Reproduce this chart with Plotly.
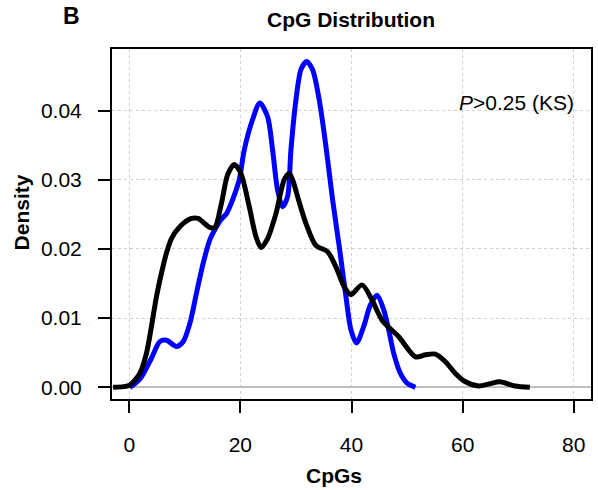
import plotly.graph_objects as go

# Black density curve
black_x = [-2.9, -1.0, 0.1, 1.9, 3.1, 4.0, 4.9, 5.8, 6.7, 7.6, 9.1, 11.2, 12.4, 14.5, 15.4,
           16.6, 17.7, 18.9, 20.1, 21.6, 22.8, 23.7, 24.9, 26.4, 27.9, 28.8, 29.4, 30.5,
           31.8, 33.6, 35.7, 37.2, 38.7, 39.9, 41.9, 43.7, 45.5, 48.5, 51.5, 53.3, 55.1,
           56.9, 58.7, 60.5, 62.9, 64.8, 66.7, 69.4, 72.1]
black_y = [0.0, 0.0001, 0.0003, 0.0020, 0.0049, 0.0088, 0.0131, 0.0165, 0.0194, 0.0215,
           0.0232, 0.0244, 0.0244, 0.0231, 0.0231, 0.0266, 0.0307, 0.0322, 0.0309, 0.0261,
           0.0218, 0.0202, 0.0215, 0.0251, 0.0300, 0.0309, 0.0300, 0.0270, 0.0237, 0.0205,
           0.0196, 0.0174, 0.0145, 0.0134, 0.0148, 0.0126, 0.0097, 0.0073, 0.0044, 0.0047,
           0.0048, 0.0037, 0.0020, 0.0008, 0.0002, 0.0005, 0.0008, 0.0002, 0.0]

# Blue density curve
blue_x = [0.1, 1.0, 2.2, 4.0, 5.5, 6.7, 8.5, 9.7, 10.9, 12.1, 13.3, 14.5, 15.7, 16.5, 17.5,
          18.6, 19.8, 20.7, 22.2, 23.5, 24.9, 25.8, 26.7, 27.6, 28.5, 29.1, 30.0, 30.9,
          31.9, 33.0, 34.2, 35.4, 36.6, 37.8, 39.0, 39.9, 40.9, 42.2, 43.4, 44.6, 45.8,
          46.7, 47.6, 48.8, 50.0, 51.5]
blue_y = [0.0, 0.0005, 0.0015, 0.0042, 0.0066, 0.0068, 0.0059, 0.0066, 0.0092, 0.0136,
          0.0179, 0.0213, 0.0232, 0.0242, 0.0251, 0.0271, 0.0300, 0.0343, 0.0387, 0.0411,
          0.0391, 0.0343, 0.0285, 0.0261, 0.0276, 0.0343, 0.0415, 0.0459, 0.0471, 0.0459,
          0.0415, 0.0348, 0.0271, 0.0203, 0.0131, 0.0083, 0.0064, 0.0088, 0.0119, 0.0133,
          0.0112, 0.0083, 0.0049, 0.0020, 0.0006, 0.0]

x_ticks = [0, 20, 40, 60, 80]
y_ticks = [0.00, 0.01, 0.02, 0.03, 0.04]

FONT = "Liberation Sans, Arial, sans-serif"
FS = 21

fig = go.Figure()
fig.add_trace(go.Scatter(x=blue_x, y=blue_y, mode="lines",
                         line=dict(color="#0000ff", width=5, shape="spline", smoothing=0.8),
                         showlegend=False))
fig.add_trace(go.Scatter(x=black_x, y=black_y, mode="lines",
                         line=dict(color="#000000", width=5, shape="spline", smoothing=0.8),
                         showlegend=False))

axis_common = dict(showline=True, mirror=True, linecolor="black", linewidth=2,
                   ticks="outside", ticklen=12, tickwidth=2, tickcolor="black",
                   showgrid=True, gridcolor="#cfcfcf", gridwidth=1, griddash="dot",
                   tickfont=dict(family=FONT, size=FS, color="black"))

fig.update_xaxes(range=[-3.1, 83.1], tickvals=x_ticks, ticktext=[str(v) for v in x_ticks],
                 zeroline=False, ticklabelstandoff=14, **axis_common)
fig.update_yaxes(range=[-0.00169, 0.04889], tickvals=y_ticks,
                 ticktext=["%.2f" % v for v in y_ticks],
                 zeroline=True, zerolinecolor="#bebebe", zerolinewidth=1.5,
                 ticklabelstandoff=12, **axis_common)

W, H = 598, 490
L, R, T, B = 112, 5, 49, 91
pw, ph = W - L - R, H - T - B


def px(xp):
    return (xp - L) / pw


def py(yp):
    return (H - B - yp) / ph


annots = [
    dict(text="<b>CpG Distribution</b>", x=px(351.5), y=py(20), size=FS),
    dict(text="<b>B</b>", x=px(71.5), y=py(16), size=23),
    dict(text="<b>CpGs</b>", x=px(335), y=py(475), size=FS),
    dict(text="<b>Density</b>", x=px(21), y=py(212), size=FS, textangle=-90),
]
for a in annots:
    fig.add_annotation(text=a["text"], x=a["x"], y=a["y"], xref="paper", yref="paper",
                       xanchor="center", yanchor="middle", showarrow=False,
                       textangle=a.get("textangle", 0),
                       font=dict(family=FONT, size=a["size"], color="black"))
fig.add_annotation(text="<i>P</i>&gt;0.25 (KS)", x=px(578), y=py(103), xref="paper",
                   yref="paper", xanchor="right", yanchor="middle", showarrow=False,
                   font=dict(family=FONT, size=FS, color="black"))

fig.update_layout(width=W, height=H, margin=dict(l=L, r=R, t=T, b=B),
                  paper_bgcolor="white", plot_bgcolor="white")

fig.write_html("out.html")
